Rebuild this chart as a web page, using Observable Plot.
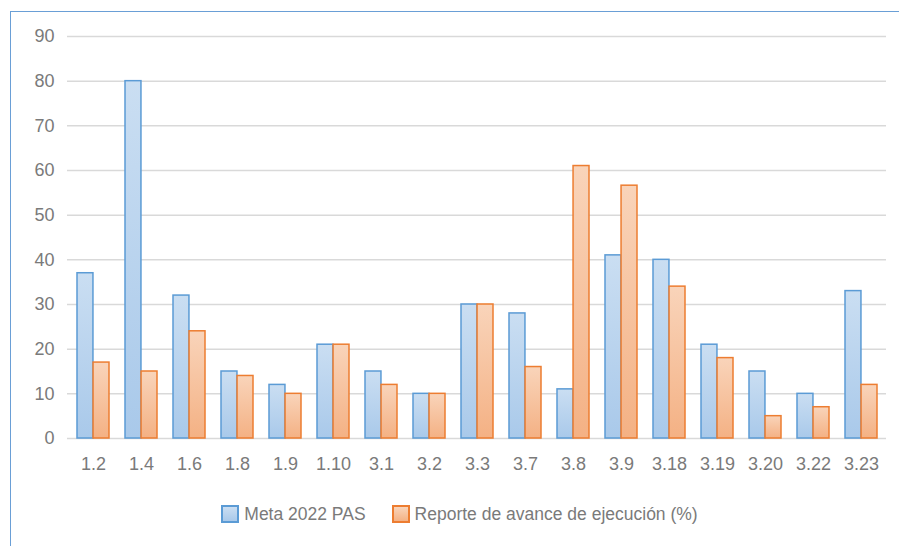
<!DOCTYPE html>
<html>
<head>
<meta charset="utf-8">
<script src="https://cdn.jsdelivr.net/npm/d3@7"></script>
<script src="https://cdn.jsdelivr.net/npm/@observablehq/plot@0.6"></script>
<style>
  html, body { margin: 0; padding: 0; background: #fff; }
  body { width: 899px; height: 546px; position: relative; overflow: hidden; font-family: "Liberation Sans", Arial, sans-serif; }
  #frame { position: absolute; left: 10px; top: 11px; width: 1000px; height: 1000px; border-top: 1.5px solid #6a9fd6; border-left: 1.5px solid #6a9fd6; }
  #chart { position: absolute; left: 0; top: 0; }
  #chart svg text { font-size: 18px !important; font-family: "Liberation Sans", Arial, sans-serif !important; }
  #legend { position: absolute; left: 0; width: 899px; top: 503px; display: flex; justify-content: center; font-size: 17.5px; line-height: 22px; color: #7a7a7a; padding-left: 20px; box-sizing: border-box; }
  .item { display: flex; align-items: center; margin: 0 13px; }
  .sw { width: 18px; height: 18px; margin-right: 5px; box-sizing: border-box; }
</style>
</head>
<body>
<div id="frame"></div>
<div id="chart"></div>
<div id="legend"></div>
<script>
const categories = ["1.2","1.4","1.6","1.8","1.9","1.10","3.1","3.2","3.3","3.7","3.8","3.9","3.18","3.19","3.20","3.22","3.23"];
const meta = [37,80,32,15,12,21,15,10,30,28,11,41,40,21,15,10,33];
const reporte = [17,15,24,14,10,21,12,10,30,16,61,56.6,34,18,5,7,12];
const seriesNames = ["Meta 2022 PAS","Reporte de avance de ejecución (%)"];
const yTicks = [0,10,20,30,40,50,60,70,80,90];

const dataMeta = categories.map((c, i) => ({cat: c, value: meta[i]}));
const dataRep = categories.map((c, i) => ({cat: c, value: reporte[i]}));

const W = 899, H = 480;
const chart = Plot.plot({
  width: W, height: H,
  marginLeft: 67, marginRight: 13, marginTop: 36, marginBottom: 42,
  style: {fontFamily: "'Liberation Sans', Arial, sans-serif", fontSize: "18px", color: "#7a7a7a", background: "transparent"},
  x: {type: "band", domain: categories, paddingInner: 0.335, paddingOuter: 0.1675, label: null},
  y: {domain: [0, 90], ticks: yTicks, label: null},
  marks: [
    Plot.ruleY(yTicks, {stroke: "#d9d9d9", strokeWidth: 1.5}),
    Plot.axisY({ticks: yTicks, tickSize: 0, tickPadding: 13, label: null, fill: "#7a7a7a", fontSize: 18}),
    Plot.axisX({tickSize: 0, tickPadding: 19, label: null, fill: "#7a7a7a", fontSize: 18}),
    Plot.barY(dataMeta, {x: "cat", y: "value", fill: "url(#gBlue)", stroke: "#5b9bd5", strokeWidth: 1.5, insetRight: 16.05}),
    Plot.barY(dataRep, {x: "cat", y: "value", fill: "url(#gOrange)", stroke: "#ed7d31", strokeWidth: 1.5, insetLeft: 16.05})
  ]
});
chart.insertAdjacentHTML("afterbegin", `<defs>
  <linearGradient id="gBlue" x1="0" y1="0" x2="0" y2="1"><stop offset="0" stop-color="#cadef2"/><stop offset="1" stop-color="#a9c9ea"/></linearGradient>
  <linearGradient id="gOrange" x1="0" y1="0" x2="0" y2="1"><stop offset="0" stop-color="#f9d4ba"/><stop offset="1" stop-color="#f4b184"/></linearGradient>
</defs>`);
document.getElementById("chart").appendChild(chart);

const swatches = [
  {fill: "linear-gradient(#cadef2,#a9c9ea)", stroke: "#5b9bd5"},
  {fill: "linear-gradient(#f9d4ba,#f4b184)", stroke: "#ed7d31"}
];
const legend = document.getElementById("legend");
seriesNames.forEach((name, i) => {
  const item = document.createElement("div");
  item.className = "item";
  const sw = document.createElement("span");
  sw.className = "sw";
  sw.style.background = swatches[i].fill;
  sw.style.border = `2px solid ${swatches[i].stroke}`;
  const t = document.createElement("span");
  t.textContent = name;
  item.appendChild(sw); item.appendChild(t);
  legend.appendChild(item);
});
</script>
</body>
</html>
